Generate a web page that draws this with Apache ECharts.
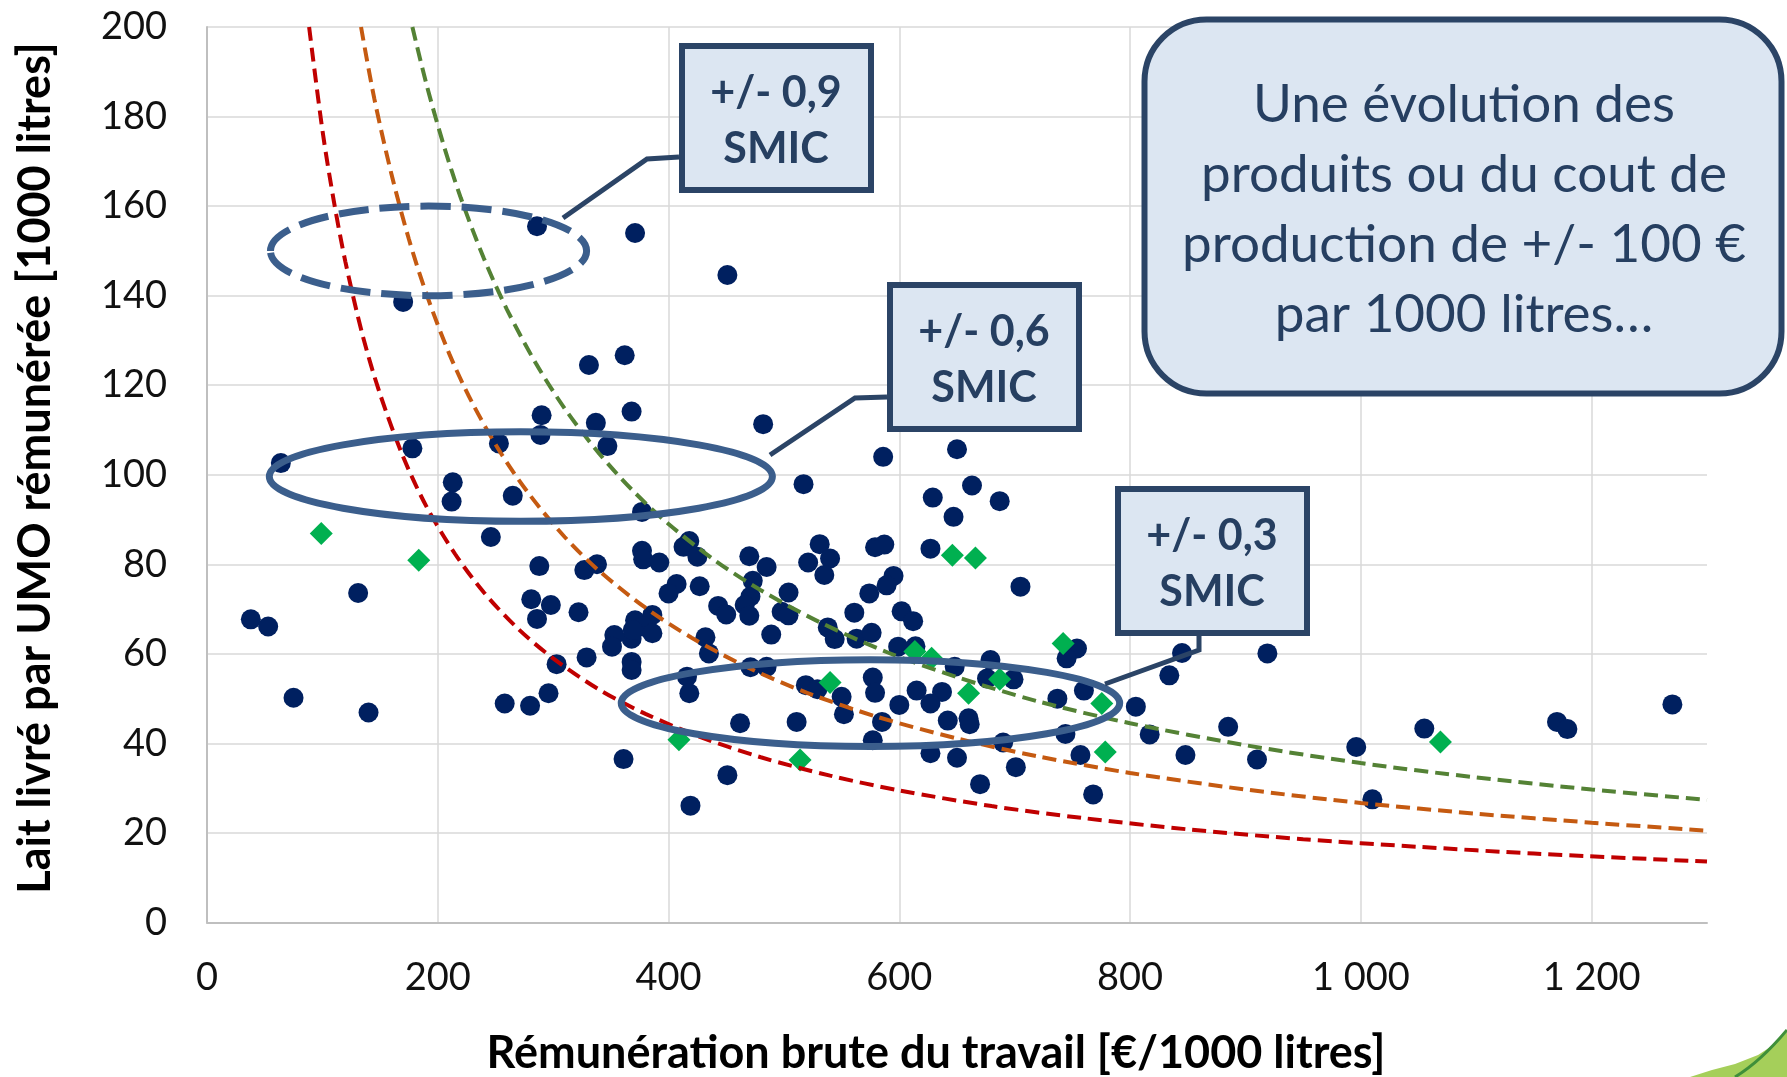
<!DOCTYPE html>
<html>
<head>
<meta charset="utf-8">
<script src="https://cdn.jsdelivr.net/npm/echarts@6/dist/echarts.min.js"></script>
<style>
html, body { margin: 0; padding: 0; background: #fff; }
#chart { width: 1787px; height: 1077px; }
</style>
</head>
<body>
<div id="chart"></div>
<script>
// farms: [rémunération brute €/1000 L, lait livré par UMO 1000 L]
const navyFarms = [
  [286, 155.5], [371, 154], [451, 144.6], [170, 138.6], [331, 124.5], [362, 126.7], [290, 113.3], [337, 111.6],
  [368, 114.1], [482, 111.3], [289, 108.9], [253, 107], [178, 105.9], [347, 106.4], [64, 102.6], [586, 104],
  [650, 105.7], [213, 98.3], [212, 94], [265, 95.3], [377, 91.7], [517, 97.9], [629, 94.9], [663, 97.6],
  [687, 94.1], [647, 90.6], [246, 86.1], [288, 79.6], [327, 78.7], [338, 80], [418, 85.2], [413, 83.9],
  [425, 81.7], [377, 83], [378, 81.1], [392, 80.4], [407, 75.6], [400, 73.5], [427, 75.1], [443, 70.7],
  [131, 73.6], [38, 67.7], [53, 66.1], [281, 72.2], [298, 70.9], [286, 67.8], [322, 69.3], [371, 67.5],
  [386, 68.7], [378, 66.1], [353, 64.2], [368, 63.4], [386, 64.6], [351, 61.6], [369, 65.3], [432, 63.7],
  [435, 60.1], [329, 59.2], [303, 57.7], [368, 58.2], [368, 56.4], [416, 54.9], [418, 51.2], [296, 51.2],
  [258, 48.9], [280, 48.4], [75, 50.2], [140, 46.9], [361, 36.5], [419, 26.1], [627, 83.5], [579, 83.8],
  [587, 84.4], [531, 84.5], [540, 81.3], [521, 80.4], [535, 77.6], [470, 81.8], [485, 79.4], [705, 75],
  [595, 77.4], [589, 75.3], [574, 73.5], [473, 76.3], [471, 72.8], [504, 73.7], [450, 68.8], [466, 70.9],
  [470, 68.5], [498, 69.4], [504, 68.6], [489, 64.3], [561, 69.2], [602, 69.5], [612, 67.3], [538, 65.9],
  [544, 63.3], [563, 63.4], [576, 64.7], [599, 61.6], [614, 61.7], [648, 57.1], [679, 58.6], [754, 61.2],
  [745, 59], [471, 57], [485, 57.1], [519, 53], [529, 52.1], [550, 50.4], [577, 54.7], [579, 51.3],
  [552, 46.5], [615, 51.8], [637, 51.5], [627, 48.9], [600, 48.6], [642, 45.1], [660, 45.6], [661, 44.3],
  [676, 54.5], [699, 54.3], [737, 50], [760, 51.8], [805, 48.2], [585, 44.8], [577, 40.7], [511, 44.8],
  [462, 44.5], [451, 32.9], [627, 37.8], [650, 36.8], [690, 40.2], [744, 42.1], [757, 37.4], [701, 34.7],
  [670, 30.9], [768, 28.6], [845, 60.2], [919, 60.1], [834, 55.2], [817, 42], [885, 43.7], [848, 37.4],
  [910, 36.4], [996, 39.2], [1055, 43.3], [1170, 44.8], [1179, 43.2], [1270, 48.7], [1010, 27.5]
];
const greenFarms = [
  [99, 86.9], [183.5, 80.9], [409, 40.8], [514, 36.3], [540, 53.6], [613.5, 60.5], [628, 59], [646, 82],
  [666, 81.4], [660, 51.2], [687, 54.3], [742, 62.3], [775.5, 48.9], [778.5, 38.1], [1069, 40.3]
];

// dashed iso-revenue curves
const curveRed = [
  [88.5, 200], [100, 177], [110, 161], [120, 147.5], [135, 131], [150, 118], [170, 104], [190, 93],
  [215, 82.3], [240, 73.7], [270, 65.5], [300, 59], [340, 52], [380, 46.6], [430, 41.2], [480, 36.9],
  [540, 32.8], [600, 29.5], [680, 26], [760, 23.3], [850, 20.8], [950, 18.6], [1050, 16.9], [1150, 15.4],
  [1300, 13.6]
];
const curveOrange = [
  [133.5, 200], [145, 184], [160, 167], [175, 152.6], [190, 140.5], [210, 127], [230, 116], [255, 104.7],
  [280, 95.4], [310, 86.1], [340, 78.5], [380, 70.3], [420, 63.6], [470, 56.8], [520, 51.3], [580, 46],
  [650, 41.1], [720, 37.1], [800, 33.4], [900, 29.7], [1000, 26.7], [1100, 24.3], [1200, 22.3], [1300, 20.5]
];
const curveGreen = [
  [178, 200], [190, 187.4], [205, 173.7], [220, 161.8], [240, 148.3], [260, 136.9], [285, 124.9],
  [310, 114.8], [340, 104.7], [370, 96.2], [400, 89], [440, 80.9], [480, 74.2], [530, 67.2], [590, 60.3],
  [650, 54.8], [720, 49.4], [800, 44.5], [900, 39.6], [1000, 35.6], [1100, 32.4], [1200, 29.7], [1300, 27.4]
];

const xTicks = [0, 200, 400, 600, 800, 1000, 1200];
const xTickLabels = ['0', '200', '400', '600', '800', '1 000', '1 200'];

// ellipses around groups of farms, in data units
const ellipseCx = [192, 272, 575];
const ellipseCy = [150, 99.6, 49];
const ellipseRx = [137, 218, 216];
const ellipseRy = [10, 10, 9.7];
const ellipseDashed = [true, false, false];

const boxLabels = ['+/- 0,9', '+/- 0,6', '+/- 0,3'];
const noteLines = ['Une évolution des', 'produits ou du cout de', 'production de +/- 100 €', 'par 1000 litres…'];
const xTitle = 'Rémunération brute du travail [€/1000 litres]';
const yTitle = 'Lait livré par UMO rémunérée [1000 litres]';

const FONT = 'Lato, "Open Sans", sans-serif';
const BOX_STROKE = '#2b4466';
const BOX_FILL = '#dce6f2';
const BOX_TEXT = '#263f61';

const chart = echarts.init(document.getElementById('chart'), null, { renderer: 'canvas' });

const curve = (name, data, color) => ({
  name,
  type: 'line',
  data,
  smooth: 0.3,
  symbol: 'none',
  silent: true,
  clip: true,
  lineStyle: { color, width: 4, type: [14, 7] },
});

chart.setOption({
  animation: false,
  backgroundColor: '#fff',
  grid: { left: 207, right: 80, top: 27, bottom: 154.5 },
  xAxis: {
    type: 'value',
    min: 0,
    max: 1300,
    interval: 200,
    axisLine: { show: true, lineStyle: { color: '#bfbfbf', width: 2 } },
    axisTick: { show: false },
    axisLabel: {
      color: '#111',
      fontSize: 38,
      fontFamily: FONT,
      margin: 36,
      showMaxLabel: false,
      formatter: v => {
        const i = xTicks.indexOf(v);
        return i >= 0 ? xTickLabels[i] : '';
      },
    },
    splitLine: { show: true, showMaxLine: false, lineStyle: { color: '#d9d9d9', width: 1.5 } },
  },
  yAxis: {
    type: 'value',
    min: 0,
    max: 200,
    interval: 20,
    axisLine: { show: true, lineStyle: { color: '#bfbfbf', width: 2 } },
    axisTick: { show: false },
    axisLabel: { color: '#111', fontSize: 38, fontFamily: FONT, margin: 40 },
    splitLine: { show: true, lineStyle: { color: '#d9d9d9', width: 1.5 } },
  },
  series: [
    curve('0,3 SMIC', curveRed, '#c00000'),
    curve('0,6 SMIC', curveOrange, '#c55a11'),
    curve('0,9 SMIC', curveGreen, '#548235'),
    {
      name: 'Exploitations',
      type: 'scatter',
      data: navyFarms,
      symbol: 'circle',
      symbolSize: 20,
      itemStyle: { color: '#002060', opacity: 1 },
    },
    {
      name: 'Exploitations (bio)',
      type: 'scatter',
      data: greenFarms,
      symbol: 'diamond',
      symbolSize: 23,
      itemStyle: { color: '#00b050', opacity: 1 },
    },
  ],
});

// annotations drawn on top, ellipses placed through the grid scales
const toPx = p => chart.convertToPixel({ gridIndex: 0 }, p);
const graphics = [];

ellipseCx.forEach((cx, i) => {
  const c = toPx([cx, ellipseCy[i]]);
  const r = toPx([cx + ellipseRx[i], ellipseCy[i] + ellipseRy[i]]);
  graphics.push({
    type: 'ellipse',
    z: 100,
    silent: true,
    shape: { cx: c[0], cy: c[1], rx: r[0] - c[0], ry: c[1] - r[1] },
    style: { fill: null, stroke: '#3b5e8c', lineWidth: 7, lineDash: ellipseDashed[i] ? [30, 11] : null },
  });
});

const leaders = [
  [[679, 157], [647, 159], [563, 218]],
  [[887, 397], [855, 398], [770, 455]],
  [[1199, 636], [1199, 650], [1105, 684]],
];
leaders.forEach(points => {
  graphics.push({
    type: 'polyline',
    z: 101,
    silent: true,
    shape: { points },
    style: { stroke: BOX_STROKE, lineWidth: 5, fill: null },
  });
});

const boxes = [[679, 43], [887, 282], [1115, 486]];
boxes.forEach(([bx, by], i) => {
  graphics.push({
    type: 'rect',
    z: 102,
    silent: true,
    shape: { x: bx + 3, y: by + 3, width: 189, height: 144 },
    style: { fill: BOX_FILL, stroke: BOX_STROKE, lineWidth: 6 },
  });
  graphics.push({
    type: 'text',
    z: 103,
    silent: true,
    style: {
      text: boxLabels[i], x: bx + 97, y: by + 50, align: 'center', verticalAlign: 'middle',
      fontSize: 43, fontWeight: 'bold', fontFamily: FONT, fill: BOX_TEXT,
    },
  });
  graphics.push({
    type: 'text',
    z: 103,
    silent: true,
    style: {
      text: 'SMIC', x: bx + 97, y: by + 106, align: 'center', verticalAlign: 'middle',
      fontSize: 43, fontWeight: 'bold', fontFamily: FONT, fill: BOX_TEXT,
    },
  });
});

// big note, top right
graphics.push({
  type: 'rect',
  z: 102,
  silent: true,
  shape: { x: 1144.5, y: 19.5, width: 637, height: 374, r: 62 },
  style: { fill: BOX_FILL, stroke: BOX_STROKE, lineWidth: 6 },
});
graphics.push({
  type: 'text',
  z: 103,
  silent: true,
  style: {
    text: noteLines.join('\n'), x: 1464, y: 210, align: 'center', verticalAlign: 'middle',
    fontSize: 53, lineHeight: 70, fontFamily: FONT, fill: BOX_TEXT,
  },
});

// axis titles
graphics.push({
  type: 'text',
  silent: true,
  style: {
    text: xTitle, x: 936, y: 1053, align: 'center', verticalAlign: 'middle',
    fontSize: 45, fontWeight: 'bold', fontFamily: FONT, fill: '#000',
  },
});
graphics.push({
  type: 'text',
  silent: true,
  x: 35,
  y: 468,
  rotation: Math.PI / 2,
  style: {
    text: yTitle, x: 0, y: 0, align: 'center', verticalAlign: 'middle',
    fontSize: 45, fontWeight: 'bold', fontFamily: FONT, fill: '#000',
  },
});

// corner of the logo, bottom right
graphics.push({
  type: 'polygon',
  silent: true,
  shape: { points: [[1690, 1077], [1712, 1070], [1735, 1064], [1758, 1055], [1775, 1044], [1787, 1032], [1787, 1077]] },
  style: { fill: '#a5cf5a' },
});
graphics.push({
  type: 'bezierCurve',
  silent: true,
  shape: { x1: 1735, y1: 1077, cpx1: 1760, cpy1: 1062, x2: 1787, y2: 1030 },
  style: { fill: null, stroke: '#3f8f3a', lineWidth: 3 },
});

chart.setOption({ graphic: graphics });
</script>
</body>
</html>
